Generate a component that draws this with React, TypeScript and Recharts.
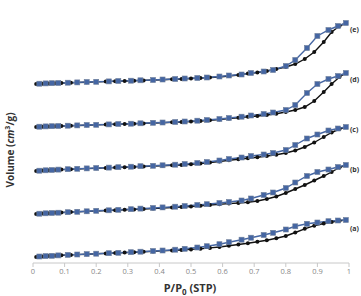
import React from "react";
import { Line, LineChart, XAxis, YAxis } from "recharts";

// relative pressure points, adsorption branch and desorption branch
const adsP = [0.01, 0.03, 0.05, 0.07, 0.09, 0.12, 0.14, 0.17, 0.2, 0.23, 0.26, 0.29, 0.32, 0.35, 0.38, 0.41, 0.44, 0.47, 0.5, 0.53, 0.56, 0.59, 0.62, 0.65, 0.68, 0.71, 0.74, 0.77, 0.8, 0.83, 0.86, 0.89, 0.92, 0.945, 0.97, 0.99];
const desP = [0.99, 0.965, 0.935, 0.9, 0.867, 0.83, 0.8, 0.76, 0.73, 0.69, 0.66, 0.62, 0.59, 0.55, 0.52, 0.48, 0.45, 0.41, 0.38, 0.34, 0.31, 0.27, 0.24, 0.2, 0.17, 0.14, 0.11, 0.08, 0.06, 0.04, 0.02];

const xTicks = [0, 0.1, 0.2, 0.3, 0.4, 0.5, 0.6, 0.7, 0.8, 0.9, 1];
const seriesNames = ["(a)", "(b)", "(c)", "(d)", "(e)"];

// volumes (offset, stacked)
const aAds = [6, 6.5, 7, 7.3, 7.7, 8.1, 8.4, 8.8, 9.2, 9.6, 10, 10.4, 10.8, 11.2, 11.6, 12.1, 12.6, 13, 13.6, 14.3, 15.1, 16, 17.2, 18.5, 19.8, 21.2, 22.8, 24.7, 27, 30.5, 34.2, 37.3, 39.5, 41, 42.2, 43];
const aDes = [43, 42.5, 41.8, 40.5, 39.2, 36.7, 33.5, 30.2, 28, 25.3, 23.3, 20.8, 18.8, 16.8, 15.5, 14.2, 13.3, 12.5, 12, 11.3, 10.8, 10.2, 9.8, 9.3, 8.9, 8.5, 8.1, 7.6, 7.2, 6.9, 6.5];

const bAds = [49, 49.4, 49.8, 50.2, 50.5, 50.9, 51.2, 51.6, 52, 52.4, 52.8, 53.2, 53.6, 54, 54.5, 55, 55.5, 56, 56.5, 57.2, 58, 58.7, 59.4, 60, 60.8, 62, 64, 66.5, 70, 74, 78, 82.5, 87, 91, 95.5, 98];
const bDes = [98, 96, 93.5, 91, 87, 80.5, 75, 70.5, 68, 64.5, 62.5, 61, 60, 58.8, 58, 57, 56.3, 55.6, 55, 54.4, 53.8, 53.2, 52.7, 52.2, 51.7, 51.2, 50.8, 50.3, 50, 49.7, 49.3];

const cAds = [92, 92.4, 92.8, 93.1, 93.4, 93.8, 94, 94.4, 94.8, 95.1, 95.4, 95.8, 96.1, 96.5, 96.9, 97.3, 97.7, 98, 98.7, 99.5, 100.5, 101.5, 102.8, 103.8, 104.8, 105.8, 107, 108.3, 110, 112.5, 116, 120.5, 126, 130.5, 134, 136];
const cDes = [136, 134.5, 132.5, 128.5, 124.5, 118, 113, 110, 108.5, 107, 105.5, 104, 102.5, 101, 100, 99, 98.3, 97.7, 97.2, 96.8, 96.3, 95.8, 95.4, 95, 94.6, 94.2, 93.8, 93.4, 93, 92.7, 92.3];

const dAds = [136, 136.3, 136.6, 136.8, 137, 137.3, 137.5, 137.8, 138.1, 138.4, 138.7, 139, 139.3, 139.6, 140, 140.3, 140.7, 141, 141.5, 142, 142.7, 143.5, 144.5, 145.3, 146.2, 147, 148, 149.3, 151, 153, 156, 162, 171, 179, 186, 190];
const dDes = [190, 187, 184, 179, 170, 158, 153, 150.5, 149, 147.5, 146.3, 145, 144, 143, 142.3, 141.5, 141, 140.5, 140.2, 139.7, 139.3, 139, 138.6, 138.2, 138, 137.6, 137.3, 137, 136.8, 136.6, 136.3];

const eAds = [179, 179.3, 179.6, 179.8, 180, 180.3, 180.5, 180.8, 181.1, 181.4, 181.7, 182, 182.3, 182.6, 183, 183.3, 183.7, 184, 184.5, 185, 185.5, 186, 187, 188, 189.5, 190.5, 192, 194, 196, 199, 204, 211, 221, 231, 237, 240];
const eDes = [240, 237, 233, 227, 215, 203, 197, 193, 191.5, 190, 188.5, 187.5, 186.5, 185.5, 185, 184.5, 184, 183.5, 183, 182.7, 182.3, 182, 181.6, 181.2, 181, 180.6, 180.3, 180, 179.8, 179.6, 179.3];

const adsSeries = [aAds, bAds, cAds, dAds, eAds];
const desSeries = [aDes, bDes, cDes, dDes, eDes];

const toPoints = (ps: number[], vs: number[]) => ps.map((p, i) => ({ p, v: vs[i] }));

const BLUE = "#4566a3";
const BLACK = "#111111";

const Square = (props: any) => {
  const { cx, cy } = props;
  if (cx == null || cy == null) return null;
  return <rect x={cx - 2.5} y={cy - 2.5} width={5} height={5} fill={BLUE} stroke="#6f7f99" strokeWidth={0.6} />;
};

const Circle = (props: any) => {
  const { cx, cy } = props;
  if (cx == null || cy == null) return null;
  return <circle cx={cx} cy={cy} r={2} fill={BLACK} />;
};

const labelY = [229, 170, 130, 80, 30];

export default function App() {
  return (
    <div style={{ position: "fixed", left: 0, top: 0, width: 361, height: 296, background: "#fff", fontFamily: "'Open Sans', sans-serif", overflow: "hidden" }}>
      <LineChart width={361} height={296} margin={{ top: 10, right: 12, left: 33, bottom: 13 }}>
        <XAxis
          type="number"
          dataKey="p"
          domain={[0, 1]}
          ticks={xTicks}
          tickFormatter={(t: number) => String(t)}
          height={20}
          stroke="#c8c8c8"
          tickSize={4}
          tick={{ fill: "#888888", fontSize: 7.5 }}
          allowDataOverflow
        />
        <YAxis hide type="number" domain={[0, 253]} width={0} />
        {adsSeries.map((vs, i) => (
          <Line
            key={"ads" + i}
            data={toPoints(adsP, vs)}
            dataKey="v"
            stroke={BLACK}
            strokeWidth={1.4}
            dot={<Circle />}
            activeDot={false}
            isAnimationActive={false}
          />
        ))}
        {desSeries.map((vs, i) => (
          <Line
            key={"des" + i}
            data={toPoints(desP, vs)}
            dataKey="v"
            stroke={BLUE}
            strokeWidth={1.4}
            dot={<Square />}
            activeDot={false}
            isAnimationActive={false}
          />
        ))}
      </LineChart>
      {seriesNames.map((name, i) => (
        <div
          key={name}
          style={{ position: "absolute", left: 350, top: labelY[i] - 5, fontSize: 7, fontWeight: 700, color: "#333", lineHeight: "10px", whiteSpace: "nowrap" }}
        >
          {name}
        </div>
      ))}
      <div style={{ position: "absolute", left: 140, width: 100, top: 281, textAlign: "center", fontSize: 11, fontWeight: 700, color: "#333", lineHeight: "14px" }}>
        P/P<sub style={{ fontSize: 8 }}>0</sub> (STP)
      </div>
      <div
        style={{
          position: "absolute",
          left: 9,
          top: 150,
          transform: "translate(-50%, -50%) rotate(-90deg)",
          whiteSpace: "nowrap",
          fontSize: 10,
          fontWeight: 700,
          color: "#333",
          lineHeight: "12px",
        }}
      >
        Volume (<i>cm</i><sup style={{ fontSize: 7 }}>3</sup>/g)
      </div>
    </div>
  );
}
